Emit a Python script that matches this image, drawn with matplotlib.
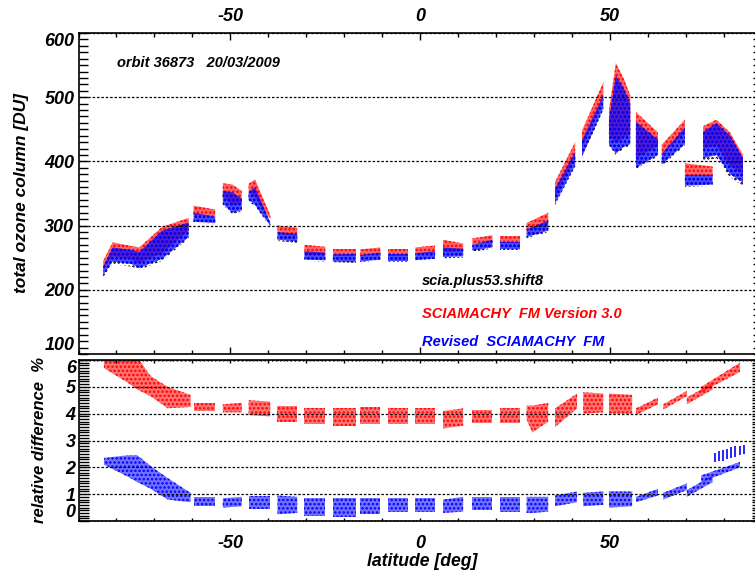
import matplotlib
matplotlib.use("Agg")
import matplotlib.pyplot as plt
from matplotlib.ticker import MultipleLocator, FixedLocator, FuncFormatter

plt.rcParams['font.family'] = 'Liberation Sans'
plt.rcParams['font.weight'] = 'bold'
plt.rcParams['font.style'] = 'italic'
plt.rcParams['axes.unicode_minus'] = False
plt.rcParams['hatch.linewidth'] = 1.2

# ---- top panel: total ozone per state (latitude points, low / high envelope in DU)
lat_o3 = [[-83.5, -81, -76, -74, -68, -61], [-59.7, -54], [-52, -49.5, -47],
          [-45.2, -43.5, -39.5], [-37.6, -32.4], [-30.5, -25], [-23, -17],
          [-15.8, -10.5], [-8.4, -3.2], [-1.3, 3.9], [6, 11.3], [13.7, 19],
          [21, 26.3], [28, 33.7], [35.5, 40.8], [42.6, 48.2],
          [49.7, 51.5, 53.5, 55.3], [56.8, 62.6], [63.6, 69.7], [69.7, 77],
          [74.5, 78, 81.6, 85]]

scia_lo = [[220, 240, 236, 231, 245, 280], [304, 302], [332, 318, 322],
           [338, 330, 298], [276, 273], [245, 244], [243, 242], [243, 246],
           [243, 243], [245, 248], [249, 250], [259, 264], [262, 262],
           [280, 290], [332, 392], [405, 480], [425, 410, 420, 425],
           [388, 408], [393, 425], [360, 362], [400, 405, 375, 362]]
scia_hi = [[232, 262, 258, 255, 288, 302], [318, 312], [352, 350, 340],
           [350, 358, 303], [288, 285], [258, 256], [253, 254], [252, 256],
           [253, 253], [256, 259], [264, 262], [268, 276], [272, 272],
           [292, 306], [355, 412], [430, 500], [462, 528, 510, 485],
           [458, 430], [410, 450], [376, 376], [440, 452, 432, 398]]

rev_lo = [[223, 244, 240, 234, 248, 282], [306, 304], [334, 320, 324],
          [340, 332, 300], [278, 275], [247, 246], [244, 243], [244, 247],
          [245, 245], [246, 249], [251, 252], [261, 266], [264, 264],
          [282, 292], [334, 394], [407, 483], [427, 412, 422, 427],
          [390, 410], [395, 427], [362, 364], [405, 410, 380, 367]]
rev_hi = [[236, 266, 262, 259, 292, 305], [320, 314], [354, 352, 342],
          [352, 360, 305], [290, 287], [260, 258], [255, 256], [254, 258],
          [255, 255], [257, 260], [266, 264], [270, 278], [274, 274],
          [294, 308], [357, 415], [433, 503], [465, 534, 515, 490],
          [462, 434], [412, 453], [379, 379], [446, 460, 440, 405]]

fm30_lo = [[233, 252, 247, 242, 257, 292], [317, 314], [346, 331, 335],
           [352, 344, 310], [287, 284], [255, 254], [252, 252], [252, 256],
           [253, 253], [255, 258], [259, 260], [270, 275], [273, 273],
           [292, 303], [345, 408], [422, 498], [442, 428, 437, 442],
           [405, 424], [410, 445], [378, 378], [420, 425, 393, 380]]
fm30_hi = [[245, 274, 268, 266, 298, 312], [331, 325], [366, 364, 354],
           [365, 372, 316], [300, 297], [270, 267], [263, 263], [263, 266],
           [264, 264], [266, 269], [278, 272], [280, 285], [284, 284],
           [304, 320], [368, 430], [448, 523], [480, 553, 530, 503],
           [477, 445], [426, 465], [397, 392], [455, 465, 445, 410]]

# ---- bottom panel: relative difference to scia.plus53.shift8 [%]
lat_rd = [[-83.3, -77, -74.5, -71, -66.5, -60.5], [-59.7, -54], [-52, -47],
          [-45.2, -39.5], [-37.6, -32.4], [-30.5, -25], [-23, -17],
          [-15.8, -10.5], [-8.4, -3.2], [-1.3, 3.9], [6, 11.3], [13.7, 19],
          [21, 26.3], [28, 29.5, 33.7], [35.5, 41.3], [42.9, 48.2],
          [49.7, 55.8], [56.8, 62.6], [64, 70.2], [70.2, 77], [74, 84.2]]

rd_fm30_lo = [[5.7, 5.15, 4.9, 4.65, 4.2, 4.25], [4.1, 4.1], [4.05, 4.05],
              [3.95, 3.9], [3.7, 3.7], [3.6, 3.6], [3.55, 3.55], [3.6, 3.6],
              [3.6, 3.6], [3.6, 3.6], [3.45, 3.55], [3.65, 3.65], [3.65, 3.65],
              [3.8, 3.3, 3.7], [3.5, 4.2], [4.0, 4.05], [4.0, 4.0],
              [3.95, 4.35], [4.15, 4.65], [4.35, 4.9], [4.8, 5.55]]
rd_fm30_hi = [[6.1, 6.1, 6.1, 5.4, 5.0, 4.7], [4.4, 4.4], [4.35, 4.4],
              [4.5, 4.45], [4.3, 4.3], [4.2, 4.2], [4.2, 4.2], [4.25, 4.25],
              [4.2, 4.2], [4.2, 4.2], [4.1, 4.2], [4.15, 4.15], [4.2, 4.2],
              [4.3, 4.3, 4.4], [4.2, 4.75], [4.8, 4.75], [4.75, 4.7],
              [4.2, 4.6], [4.35, 4.85], [4.6, 5.15], [5.0, 5.9]]

rd_rev_lo = [[2.1, 1.65, 1.45, 1.2, 0.8, 0.7], [0.55, 0.55], [0.5, 0.55],
             [0.45, 0.45], [0.25, 0.3], [0.2, 0.2], [0.15, 0.15], [0.25, 0.25],
             [0.35, 0.35], [0.35, 0.35], [0.3, 0.35], [0.4, 0.4], [0.35, 0.35],
             [0.3, 0.3, 0.35], [0.55, 0.7], [0.55, 0.6], [0.5, 0.55],
             [0.7, 0.95], [0.8, 1.15], [0.9, 1.45], [1.45, 2.0]]
rd_rev_hi = [[2.35, 2.45, 2.45, 2.05, 1.6, 1.05], [0.9, 0.9], [0.85, 0.9],
             [0.95, 0.95], [0.95, 0.9], [0.85, 0.85], [0.85, 0.85], [0.85, 0.85],
             [0.85, 0.85], [0.85, 0.85], [0.8, 0.9], [0.9, 0.9], [0.9, 0.9],
             [0.9, 0.9, 0.9], [0.95, 1.1], [1.05, 1.1], [1.1, 1.1],
             [0.9, 1.2], [1.05, 1.4], [1.15, 1.7], [1.7, 2.2]]

# short vertical scan streaks of the revised FM near the north pole
streak_lat = [77.5, 78.6, 79.7, 80.8, 81.9, 83.0, 84.1, 85.2]
streak_lo = [2.2, 2.25, 2.25, 2.3, 2.35, 2.4, 2.45, 2.5]
streak_hi = [2.55, 2.6, 2.65, 2.7, 2.75, 2.8, 2.8, 2.85]

W, H = 755.0, 573.0


def box(l, t, r, b):
    # pixel box -> figure fraction
    return [l / W, 1 - b / H, (r - l) / W, (b - t) / H]


def cloud(ax, x, lo, hi, c, a):
    # speckled band: pale fill plus dotted hatch in the same colour
    if a > 0:
        ax.fill_between(x, lo, hi, facecolor=c, alpha=a, lw=0)
    ax.fill_between(x, lo, hi, facecolor='none', edgecolor=c, hatch='....', lw=0)


fig = plt.figure(figsize=(W / 100, H / 100), dpi=100)
ax1 = fig.add_axes(box(78.5, 33, 762, 354))
ax2 = fig.add_axes(box(78.5, 360, 762, 521))

grid_style = dict(color='black', linestyle=(0, (2, 1.5)), linewidth=0.9)

# top panel
for i in range(len(lat_o3)):
    cloud(ax1, lat_o3[i], scia_lo[i], scia_hi[i], 'black', 0)
    cloud(ax1, lat_o3[i], fm30_lo[i], fm30_hi[i], 'red', 0.6)
    cloud(ax1, lat_o3[i], rev_lo[i], rev_hi[i], '#0000ff', 0.7)

ax1.set_xlim(-90, 90)
ax1.set_ylim(100, 600)
ax1.xaxis.set_major_locator(FixedLocator([-50, 0, 50]))
ax1.xaxis.set_minor_locator(MultipleLocator(10))
ax1.yaxis.set_major_locator(FixedLocator([100, 200, 300, 400, 500, 600]))
ax1.yaxis.set_minor_locator(MultipleLocator(10))
ax1.tick_params(axis='x', which='both', direction='in', top=True, bottom=True,
                labeltop=True, labelbottom=False, labelsize=13, pad=6, width=1)
ax1.tick_params(axis='x', which='major', length=5)
ax1.tick_params(axis='x', which='minor', length=3)
ax1.tick_params(axis='y', which='both', direction='in', left=True, right=True,
                length=6.5, width=1, labelsize=13, pad=3)
ax1.grid(axis='y', which='major', **grid_style)
yt = ax1.yaxis.get_major_ticks()
yt[0].label1.set_va('bottom')
yt[-1].label1.set_va('top')

ax1.text(-79.8, 547.6, 'orbit 36873   20/03/2009', fontsize=10.5)
ax1.text(0.5, 208, 'scia.plus53.shift8', fontsize=10.5, color='black')
ax1.text(0.5, 156, 'SCIAMACHY  FM Version 3.0', fontsize=10.5, color='red')
ax1.text(0.5, 112.5, 'Revised  SCIAMACHY  FM', fontsize=10.5, color='blue')

# bottom panel
for i in range(len(lat_rd)):
    cloud(ax2, lat_rd[i], rd_fm30_lo[i], rd_fm30_hi[i], 'red', 0.55)
    cloud(ax2, lat_rd[i], rd_rev_lo[i], rd_rev_hi[i], 'blue', 0.55)
ax2.vlines(streak_lat, streak_lo, streak_hi, color='blue', lw=1.2)

ax2.set_xlim(-90, 90)
ax2.set_ylim(0, 6)
ax2.xaxis.set_major_locator(MultipleLocator(10))
ax2.xaxis.set_major_formatter(FuncFormatter(lambda v, p: '%d' % v if v % 50 == 0 else ''))
ax2.xaxis.set_minor_locator(MultipleLocator(1))
ax2.yaxis.set_major_locator(FixedLocator([0, 1, 2, 3, 4, 5, 6]))
ax2.yaxis.set_minor_locator(MultipleLocator(0.1))
ax2.tick_params(axis='x', which='both', direction='in', top=True, bottom=True,
                labelsize=13, pad=10, width=1)
ax2.tick_params(axis='x', which='major', length=2.2)
ax2.tick_params(axis='x', which='minor', length=1)
ax2.tick_params(axis='y', which='both', direction='in', left=True, right=True,
                length=7, width=1, labelsize=13, pad=2)
ax2.grid(axis='y', which='major', **grid_style)
yt = ax2.yaxis.get_major_ticks()
yt[0].label1.set_va('bottom')
yt[-1].label1.set_va('top')

for ax in (ax1, ax2):
    for s in ax.spines.values():
        s.set_linewidth(1.2)

fig.text(22 / W, 1 - 193.5 / H, 'total ozone column [DU]', rotation=90,
         ha='center', va='center', fontsize=12.5)
fig.text(40 / W, 1 - 440 / H, 'relative difference  %', rotation=90,
         ha='center', va='center', fontsize=12)
fig.text(422 / W, 1 - 561 / H, 'latitude [deg]', ha='center', va='center',
         fontsize=12.7)

fig.savefig('out.png', dpi=100)
